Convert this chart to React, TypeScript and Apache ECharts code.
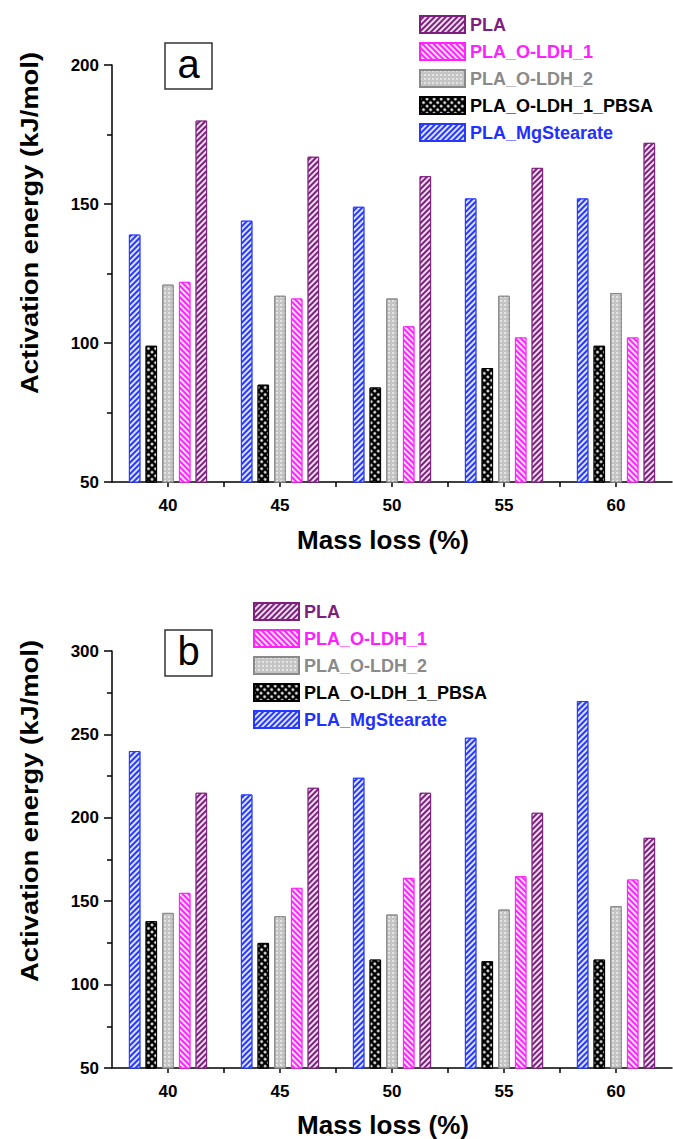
import React, { useEffect, useRef } from "react";
import * as echarts from "echarts";

const massLoss = [40, 45, 50, 55, 60];
const seriesNames = ["PLA_MgStearate", "PLA_O-LDH_1_PBSA", "PLA_O-LDH_2", "PLA_O-LDH_1", "PLA"];
const legendOrder = ["PLA", "PLA_O-LDH_1", "PLA_O-LDH_2", "PLA_O-LDH_1_PBSA", "PLA_MgStearate"];

// Panel (a)
const aMgStearate = [139, 144, 149, 152, 152];
const aPBSA = [99, 85, 84, 91, 99];
const aLDH2 = [121, 117, 116, 117, 118];
const aLDH1 = [122, 116, 106, 102, 102];
const aPLA = [180, 167, 160, 163, 172];

// Panel (b)
const bMgStearate = [240, 214, 224, 248, 270];
const bPBSA = [138, 125, 115, 114, 115];
const bLDH2 = [143, 141, 142, 145, 147];
const bLDH1 = [155, 158, 164, 165, 163];
const bPLA = [215, 218, 215, 203, 188];

const FONT = '"Liberation Sans", Arial, Helvetica, sans-serif';

const styles: Record<string, any> = {
  PLA_MgStearate: {
    color: "#2438ff", border: "#2438ff", text: "#1f30ff",
    decal: { symbol: "rect", symbolSize: 1, color: "rgba(255,255,255,0.85)", dashArrayX: [1, 0], dashArrayY: [1.2, 1.8], rotation: -Math.PI / 4 },
  },
  "PLA_O-LDH_1_PBSA": {
    color: "#000000", border: "#000000", text: "#000000",
    decal: { symbol: "circle", symbolSize: 0.9, color: "#ffffff", dashArrayX: [2.4, 1.4], dashArrayY: [2.4, 1.4], rotation: Math.PI / 4 },
  },
  "PLA_O-LDH_2": {
    color: "#c4c4c4", border: "#8a8a8a", text: "#8a8a8a",
    decal: { symbol: "circle", symbolSize: 0.8, color: "rgba(255,255,255,0.85)", dashArrayX: [1.5, 1.2], dashArrayY: [1.5, 1.2], rotation: 0 },
  },
  "PLA_O-LDH_1": {
    color: "#ff22ff", border: "#ff22ff", text: "#ff20ff",
    decal: { symbol: "rect", symbolSize: 1, color: "rgba(255,255,255,0.85)", dashArrayX: [1, 0], dashArrayY: [1.2, 1.8], rotation: Math.PI / 4 },
  },
  PLA: {
    color: "#7e1f80", border: "#7e1f80", text: "#7e1f7e",
    decal: { symbol: "rect", symbolSize: 1, color: "rgba(255,255,255,0.85)", dashArrayX: [1, 0], dashArrayY: [1.2, 1.8], rotation: -Math.PI / 4 },
  },
};

const dataA = [aMgStearate, aPBSA, aLDH2, aLDH1, aPLA];
const dataB = [bMgStearate, bPBSA, bLDH2, bLDH1, bPLA];

export default function App() {
  const ref = useRef<HTMLDivElement>(null);
  useEffect(() => {
    if (!ref.current) return;
    const chart = echarts.init(ref.current, undefined, { renderer: "svg" });

    const grids = [
      { left: 112, top: 65, width: 560, height: 417 },
      { left: 112, top: 651, width: 560, height: 417 },
    ];

    const xAxes: any[] = [];
    const yAxes: any[] = [];
    [0, 1].forEach((g) => {
      xAxes.push({
        type: "value",
        gridIndex: g,
        min: 37.5,
        max: 62.5,
        interval: 2.5,
        axisLine: { show: true, onZero: false, lineStyle: { color: "#000", width: 1.5 } },
        axisTick: { show: true, inside: false, length: 5, lineStyle: { color: "#000", width: 1.5 } },
        axisLabel: {
          color: "#000",
          fontFamily: FONT,
          fontWeight: "bold",
          fontSize: 17,
          margin: 15,
          showMinLabel: false,
          showMaxLabel: false,
          formatter: (v: number) => (massLoss.indexOf(v) >= 0 ? String(v) : ""),
        },
        splitLine: { show: false },
      });
      yAxes.push({
        type: "value",
        gridIndex: g,
        min: 50,
        max: g === 0 ? 200 : 300,
        interval: 50,
        axisLine: { show: true, lineStyle: { color: "#000", width: 1.5 } },
        axisTick: { show: true, inside: false, length: 8, lineStyle: { color: "#000", width: 1.5 } },
        minorTick: { show: true, splitNumber: 2, length: 5, lineStyle: { color: "#000", width: 1.5 } },
        axisLabel: { color: "#000", fontFamily: FONT, fontWeight: "bold", fontSize: 17, margin: 13 },
        splitLine: { show: false },
        minorSplitLine: { show: false },
      });
    });

    const series: any[] = [];
    [dataA, dataB].forEach((set, g) => {
      set.forEach((vals, i) => {
        const name = seriesNames[i];
        const st = styles[name];
        series.push({
          type: "bar",
          name,
          xAxisIndex: g,
          yAxisIndex: g,
          data: massLoss.map((x, k) => [x, vals[k]]),
          barWidth: 11.5,
          barGap: "45%",
          itemStyle: { color: st.color, borderColor: st.border, borderWidth: 1, decal: st.decal },
          emphasis: { disabled: true },
        });
      });
    });

    const legendData = legendOrder.map((n) => ({ name: n, textStyle: { color: styles[n].text } }));
    const legendBase = {
      orient: "vertical",
      itemWidth: 45,
      itemHeight: 17,
      itemGap: 8,
      icon: "rect",
      selectedMode: false,
      textStyle: { fontFamily: FONT, fontWeight: "bold", fontSize: 18 },
      data: legendData,
      padding: 0,
    };

    const yTitle = (y: number) => ({
      type: "text",
      x: 30,
      y,
      rotation: Math.PI / 2,
      scaleX: 1.19,
      style: {
        text: "Activation energy (kJ/mol)",
        fill: "#000",
        fontFamily: FONT,
        fontWeight: "bold",
        fontSize: 23,
        align: "center",
        textAlign: "center",
        verticalAlign: "middle",
        textVerticalAlign: "middle",
      },
    });
    const xTitle = (y: number) => ({
      type: "text",
      x: 383,
      y,
      style: {
        text: "Mass loss (%)",
        fill: "#000",
        fontFamily: FONT,
        fontWeight: "bold",
        fontSize: 26,
        align: "center",
        textAlign: "center",
        verticalAlign: "middle",
        textVerticalAlign: "middle",
      },
    });
    const panel = (label: string, x: number, y: number) => [
      { type: "rect", shape: { x, y, width: 47, height: 46 }, style: { fill: "#fff", stroke: "#333", lineWidth: 1.5 } },
      {
        type: "text",
        x: x + 23.5,
        y: y + 21,
        style: {
          text: label,
          fill: "#000",
          fontFamily: FONT,
          fontSize: 40,
          align: "center",
          textAlign: "center",
          verticalAlign: "middle",
          textVerticalAlign: "middle",
        },
      },
    ];

    chart.setOption({
      animation: false,
      backgroundColor: "#ffffff",
      grid: grids,
      xAxis: xAxes,
      yAxis: yAxes,
      legend: [
        { ...legendBase, left: 419, top: 15 },
        { ...legendBase, left: 253, top: 602 },
      ],
      series,
      graphic: [
        yTitle(223),
        yTitle(811),
        xTitle(540),
        xTitle(1125),
        ...panel("a", 165, 43),
        ...panel("b", 165, 630),
      ],
    });
    return () => chart.dispose();
  }, []);
  return (
    <div
      ref={ref}
      style={{ position: "fixed", left: 0, top: 0, width: 673, height: 1139, background: "#fff" }}
    />
  );
}
